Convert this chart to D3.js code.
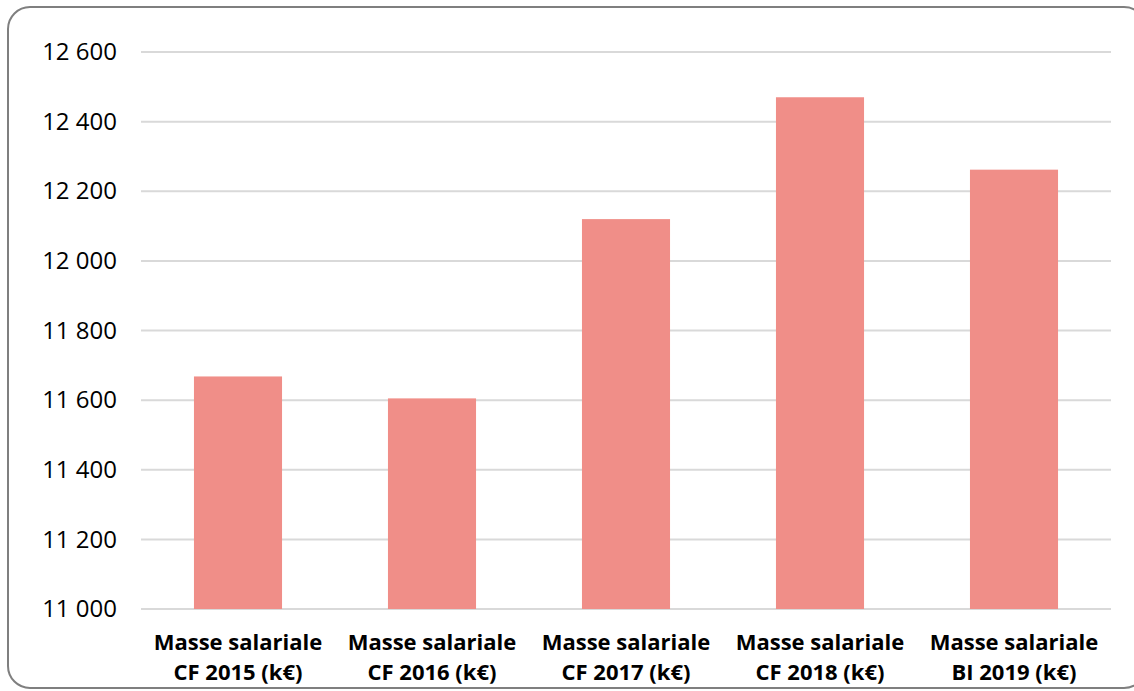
<!DOCTYPE html>
<html>
<head>
<meta charset="utf-8">
<script src="https://cdn.jsdelivr.net/npm/d3@7"></script>
<style>
  html, body { margin: 0; padding: 0; background: #fff; }
  svg { display: block; }
</style>
</head>
<body>
<svg id="chart" width="1134" height="691"></svg>
<script>
// Payroll totals, in k€
const categoryLine1 = ["Masse salariale", "Masse salariale", "Masse salariale", "Masse salariale", "Masse salariale"];
const categoryLine2 = ["CF 2015 (k€)", "CF 2016 (k€)", "CF 2017 (k€)", "CF 2018 (k€)", "BI 2019 (k€)"];
const values = [11668, 11605, 12120, 12470, 12262];
const tickValues = [11000, 11200, 11400, 11600, 11800, 12000, 12200, 12400, 12600];

const svg = d3.select("#chart");

// Outer rounded frame
svg.append("rect")
  .attr("x", 8).attr("y", 7)
  .attr("width", 1138).attr("height", 681)
  .attr("rx", 22).attr("ry", 22)
  .attr("fill", "#fff")
  .attr("stroke", "#7f7f7f")
  .attr("stroke-width", 2);

const plot = { left: 141, right: 1111, top: 52, bottom: 609 };

const x = d3.scaleBand()
  .domain(d3.range(values.length))
  .range([plot.left, plot.right])
  .paddingInner(0.546)
  .paddingOuter(0.273);

const y = d3.scaleLinear()
  .domain([11000, 12600])
  .range([plot.bottom, plot.top]);

const fmt = v => d3.format(",")(v).replace(/,/g, "\u00a0");

// Horizontal gridlines
svg.append("g")
  .selectAll("line")
  .data(tickValues)
  .join("line")
  .attr("x1", plot.left).attr("x2", plot.right)
  .attr("y1", d => y(d)).attr("y2", d => y(d))
  .attr("stroke", "#d9d9d9")
  .attr("stroke-width", 2);

// Y axis labels
const yAxis = d3.axisLeft(y).tickValues(tickValues).tickFormat(fmt).tickSize(0).tickPadding(0);
const yg = svg.append("g")
  .attr("transform", `translate(${plot.left - 24},0)`)
  .call(yAxis);
yg.select(".domain").remove();
yg.selectAll("text")
  .attr("font-family", "'Open Sans', sans-serif")
  .attr("font-size", 24)
  .attr("fill", "#000");

// Bars
svg.append("g")
  .selectAll("rect")
  .data(values)
  .join("rect")
  .attr("x", (d, i) => x(i))
  .attr("width", x.bandwidth())
  .attr("y", d => y(d))
  .attr("height", d => y(11000) - y(d))
  .attr("fill", "#f08e88");

// Category labels, two lines each
function drawLine(lines, baseline) {
  svg.append("g")
    .selectAll("text")
    .data(lines)
    .join("text")
    .attr("x", (d, i) => x(i) + x.bandwidth() / 2)
    .attr("y", baseline)
    .attr("text-anchor", "middle")
    .attr("font-family", "'Open Sans', sans-serif")
    .attr("font-weight", "bold")
    .attr("font-size", 22)
    .attr("fill", "#000")
    .text(d => d);
}
drawLine(categoryLine1, 650);
drawLine(categoryLine2, 680);
</script>
</body>
</html>
